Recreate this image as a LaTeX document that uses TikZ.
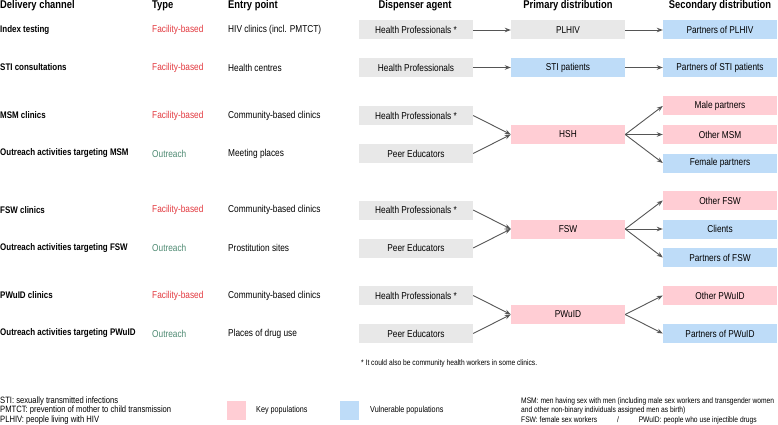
\documentclass[tikz,border=0pt]{standalone}
\usepackage{fontspec}
\setmainfont{Liberation Sans}[FakeStretch=0.83]
\usetikzlibrary{arrows.meta}
\definecolor{boxgray}{HTML}{E8E8E8}
\definecolor{keypink}{HTML}{FFCDD4}
\definecolor{vulblue}{HTML}{BEDCF8}
\definecolor{facred}{HTML}{E2383E}
\definecolor{outgreen}{HTML}{4E8A72}
\definecolor{arrgray}{HTML}{555555}
\tikzset{
  hdr/.style={font=\fontsize{11.3}{13}\selectfont\bfseries, inner sep=0},
  chan/.style={anchor=west, font=\fontsize{9.6}{11}\selectfont\bfseries, inner sep=0},
  txt/.style={anchor=west, font=\fontsize{10}{12}\selectfont, inner sep=0},
  fac/.style={txt, text=facred},
  outr/.style={txt, text=outgreen},
  bx/.style={minimum width=114pt, minimum height=19pt, inner sep=0, font=\fontsize{10}{12}\selectfont},
  gbox/.style={bx, fill=boxgray},
  pbox/.style={bx, fill=keypink},
  bbox/.style={bx, fill=vulblue},
  arr/.style={draw=arrgray, line width=0.9pt, -{Stealth[length=6pt,width=4.5pt]}},
  small/.style={anchor=west, font=\fontsize{8.7}{9.3}\selectfont, inner sep=0, align=left},
  abbrs/.style={anchor=west, font=\fontsize{9.2}{9.3}\selectfont, inner sep=0, align=left},
  smaller/.style={anchor=west, font=\fontsize{8.05}{9.3}\selectfont, inner sep=0, align=left},
  swatch/.style={minimum width=19pt, minimum height=19pt, inner sep=0},
}
\begin{document}
\begin{tikzpicture}[x=1pt,y=-1pt]
\useasboundingbox (0,0) rectangle (778,425);
% headers
\node[hdr, anchor=west] (h1) at (0,6) {Delivery channel};
\node[hdr, anchor=west] (h2) at (152,6) {Type};
\node[hdr, anchor=west] (h3) at (228,6) {Entry point};
\node[hdr] (h4) at (415,6) {Dispenser agent};
\node[hdr] (h5) at (568,6) {Primary distribution};
\node[hdr] (h6) at (720,6) {Secondary distribution};
% rows: channel, type, entry
\node[chan] (c1) at (0,30) {Index testing};
\node[fac] (t1) at (152,30) {Facility-based};
\node[txt] (e1) at (228,30) {HIV clinics (incl. PMTCT)};
\node[chan] (c2) at (0,67.5) {STI consultations};
\node[fac] (t2) at (152,67.5) {Facility-based};
\node[txt] (e2) at (228,67.5) {Health centres};
\node[chan] (c3) at (0,115.5) {MSM clinics};
\node[fac] (t3) at (152,115.5) {Facility-based};
\node[txt] (e3) at (228,115.5) {Community-based clinics};
\node[chan] (c4) at (0,153.5) {Outreach activities targeting MSM};
\node[outr] (t4) at (152,153.5) {Outreach};
\node[txt] (e4) at (228,153.5) {Meeting places};
\node[chan] (c5) at (0,210) {FSW clinics};
\node[fac] (t5) at (152,210) {Facility-based};
\node[txt] (e5) at (228,210) {Community-based clinics};
\node[chan] (c6) at (0,248) {Outreach activities targeting FSW};
\node[outr] (t6) at (152,248) {Outreach};
\node[txt] (e6) at (228,248) {Prostitution sites};
\node[chan] (c7) at (0,295.5) {PWuID clinics};
\node[fac] (t7) at (152,295.5) {Facility-based};
\node[txt] (e7) at (228,295.5) {Community-based clinics};
\node[chan] (c8) at (0,333.5) {Outreach activities targeting PWuID};
\node[outr] (t8) at (152,333.5) {Outreach};
\node[txt] (e8) at (228,333.5) {Places of drug use};
% dispenser
\node[gbox] (d1) at (416,30) {Health Professionals *};
\node[gbox] (d2) at (416,67.5) {Health Professionals};
\node[gbox] (d3) at (416,115.5) {Health Professionals *};
\node[gbox] (d4) at (416,153.5) {Peer Educators};
\node[gbox] (d5) at (416,210) {Health Professionals *};
\node[gbox] (d6) at (416,248) {Peer Educators};
\node[gbox] (d7) at (416,295.5) {Health Professionals *};
\node[gbox] (d8) at (416,333.5) {Peer Educators};
% primary
\node[gbox] (p1) at (568,30) {PLHIV};
\node[bbox] (p2) at (568,67.5) {STI patients};
\node[pbox] (p3) at (568,134.5) {HSH};
\node[pbox] (p4) at (568,229) {FSW};
\node[pbox] (p5) at (568,314.5) {PWuID};
% secondary
\node[bbox] (s1) at (720,30) {Partners of PLHIV};
\node[bbox] (s2) at (720,67.5) {Partners of STI patients};
\node[pbox] (s3) at (720,106) {Male partners};
\node[pbox] (s4) at (720,134.5) {Other MSM};
\node[bbox] (s5) at (720,163) {Female partners};
\node[pbox] (s6) at (720,200.5) {Other FSW};
\node[bbox] (s7) at (720,229) {Clients};
\node[bbox] (s8) at (720,257.5) {Partners of FSW};
\node[pbox] (s9) at (720,295.5) {Other PWuID};
\node[bbox] (s10) at (720,333.5) {Partners of PWuID};
% arrows
\draw[arr] (d1.east) -- (p1.west);
\draw[arr] (p1.east) -- (s1.west);
\draw[arr] (d2.east) -- (p2.west);
\draw[arr] (p2.east) -- (s2.west);
\draw[arr] (d3.east) -- (p3.west);
\draw[arr] (d4.east) -- (p3.west);
\draw[arr] (p3.east) -- (s3.west);
\draw[arr] (p3.east) -- (s4.west);
\draw[arr] (p3.east) -- (s5.west);
\draw[arr] (d5.east) -- (p4.west);
\draw[arr] (d6.east) -- (p4.west);
\draw[arr] (p4.east) -- (s6.west);
\draw[arr] (p4.east) -- (s7.west);
\draw[arr] (p4.east) -- (s8.west);
\draw[arr] (d7.east) -- (p5.west);
\draw[arr] (d8.east) -- (p5.west);
\draw[arr] (p5.east) -- (s9.west);
\draw[arr] (p5.east) -- (s10.west);
% footnote
\node[smaller] (fn) at (361,363) {* It could also be community health workers in some clinics.};
% legend
\node[abbrs, anchor=north west] (abbr) at (0,396.8) {STI: sexually transmitted infections\\PMTCT: prevention of mother to child transmission\\PLHIV: people living with HIV};
\node[swatch, fill=keypink] (kp) at (236,410) {};
\node[small] (kpt) at (256,410) {Key populations};
\node[swatch, fill=vulblue] (vp) at (349.5,410) {};
\node[small] (vpt) at (370,410) {Vulnerable populations};
\node[smaller, anchor=north west] (msm) at (521,397.5) {MSM: men having sex with men (including male sex workers and transgender women\\and other non-binary individuals assigned men as birth)\\FSW: female sex workers \hspace{18pt}/\hspace{18pt} PWuID: people who use injectible drugs};
\end{tikzpicture}
\end{document}
